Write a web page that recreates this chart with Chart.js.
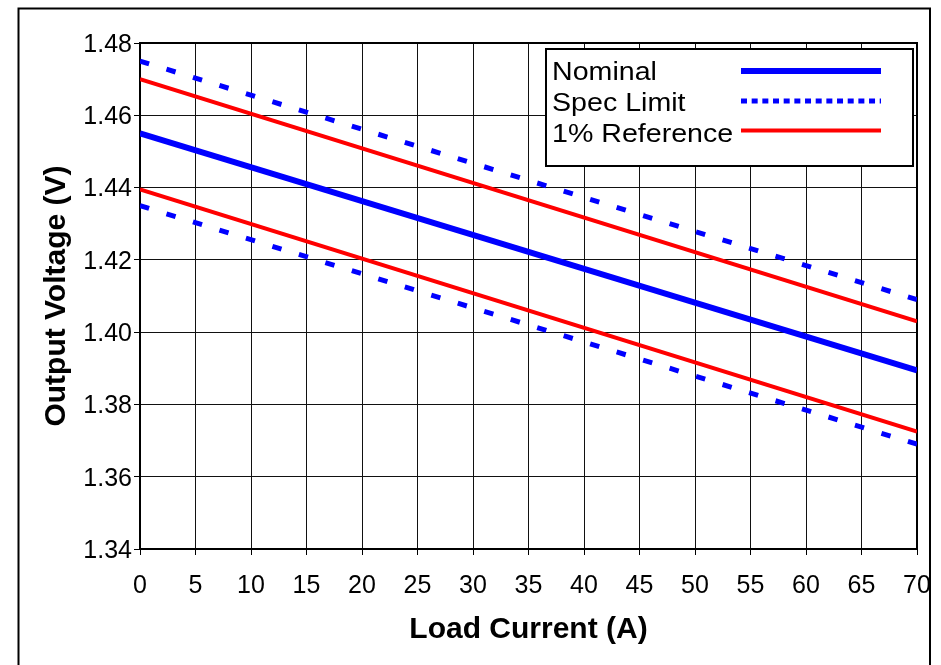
<!DOCTYPE html>
<html><head><meta charset="utf-8">
<script src="https://cdn.jsdelivr.net/npm/chart.js@4/dist/chart.umd.min.js"></script>
<style>html,body{margin:0;padding:0;background:#fff;}canvas{display:block;}</style>
</head><body>
<canvas id="c" width="941" height="665"></canvas>
<script>
// ---- data ----
const loadCurrent = [0, 70];
const nominal   = [1.455, 1.3894];
const specUpper = [1.475, 1.409];
const specLower = [1.435, 1.369];
const refUpper  = [1.470, 1.403];
const refLower  = [1.4395, 1.3725];
const xTickValues = [0, 5, 10, 15, 20, 25, 30, 35, 40, 45, 50, 55, 60, 65, 70];
const yTickValues = [1.34, 1.36, 1.38, 1.40, 1.42, 1.44, 1.46, 1.48];
const legendLabels = ['Nominal', 'Spec Limit', '1% Reference'];
const xTitle = 'Load Current (A)';
const yTitle = 'Output Voltage (V)';

const BLUE = '#0000ff', RED = '#ff0000';
const FONT = "'Liberation Sans', Arial, sans-serif";
const toPts = ys => loadCurrent.map((x, i) => ({x: x, y: ys[i]}));

const datasets = [
  {label: legendLabels[0], data: toPts(nominal), borderColor: BLUE, borderWidth: 6, legendDash: []},
  {label: legendLabels[1], data: toPts(specUpper), borderColor: BLUE, borderWidth: 5, borderDash: [9.5, 18.2], legendDash: [6, 4.67]},
  {label: legendLabels[1] + ' (low)', data: toPts(specLower), borderColor: BLUE, borderWidth: 5, borderDash: [9.5, 18.2], hideInLegend: true},
  {label: legendLabels[2], data: toPts(refUpper), borderColor: RED, borderWidth: 4, legendDash: []},
  {label: legendLabels[2] + ' (low)', data: toPts(refLower), borderColor: RED, borderWidth: 4, hideInLegend: true}
].map(d => Object.assign({pointRadius: 0, fill: false, tension: 0, borderCapStyle: 'butt'}, d));

const framePlugin = {
  id: 'frame',
  beforeDatasetsDraw(chart) {
    const {ctx, chartArea: a} = chart;
    ctx.save();
    ctx.strokeStyle = '#000';
    ctx.lineWidth = 2;
    ctx.strokeRect(a.left, a.top, a.right - a.left, a.bottom - a.top);
    ctx.restore();
  },
  afterDraw(chart) {
    const {ctx} = chart;
    ctx.save();
    // figure border
    ctx.strokeStyle = '#000';
    ctx.lineWidth = 2;
    ctx.strokeRect(18.5, 8.5, 911.5, 700);
    // legend box
    const bx = 546, by = 49, bw = 367, bh = 117;
    ctx.fillStyle = '#fff';
    ctx.fillRect(bx, by, bw, bh);
    ctx.lineWidth = 2;
    ctx.strokeRect(bx, by, bw, bh);
    const items = chart.data.datasets.filter(d => !d.hideInLegend);
    const baselines = [80, 111, 141.5];
    const lineYs = [71, 101, 130.5];
    items.forEach((d, i) => {
      ctx.save();
      ctx.translate(552, baselines[i]);
      ctx.scale(1.1, 1);
      ctx.fillStyle = '#000';
      ctx.font = '26px ' + FONT;
      ctx.textBaseline = 'alphabetic';
      ctx.textAlign = 'left';
      ctx.fillText(d.label, 0, 0);
      ctx.restore();
      ctx.beginPath();
      ctx.strokeStyle = d.borderColor;
      ctx.lineWidth = d.borderWidth;
      ctx.setLineDash(d.legendDash || []);
      ctx.lineCap = 'butt';
      ctx.moveTo(741, lineYs[i]);
      ctx.lineTo(881, lineYs[i]);
      ctx.stroke();
      ctx.setLineDash([]);
    });
    ctx.restore();
  }
};

new Chart(document.getElementById('c'), {
  type: 'line',
  data: {datasets: datasets},
  options: {
    responsive: false,
    animation: false,
    devicePixelRatio: 1,
    layout: {padding: {left: 20, top: 43, right: 24, bottom: 0}},
    plugins: {legend: {display: false}, tooltip: {enabled: false}},
    scales: {
      x: {
        type: 'linear', min: 0, max: 70,
        afterBuildTicks: s => { s.ticks = xTickValues.map(v => ({value: v})); },
        afterFit: s => { s.height = 116; s.paddingLeft = 0; s.paddingRight = 0; },
        grid: {color: '#111', lineWidth: 1, drawTicks: true, tickLength: 6, tickColor: '#000'},
        border: {display: false},
        ticks: {font: {family: FONT, size: 25}, color: '#000', padding: 16, maxRotation: 0, autoSkip: false},
        title: {display: true, text: xTitle, color: '#000', font: {family: FONT, size: 30, weight: 'bold'}, padding: {top: 0, bottom: 17}}
      },
      y: {
        type: 'linear', min: 1.34, max: 1.48,
        afterBuildTicks: s => { s.ticks = yTickValues.map(v => ({value: v})); },
        afterFit: s => { s.width = 120; s.paddingTop = 0; s.paddingBottom = 0; },
        grid: {color: '#111', lineWidth: 1, drawTicks: true, tickLength: 6, tickColor: '#000'},
        border: {display: false},
        ticks: {font: {family: FONT, size: 25}, color: '#000', padding: 2, labelOffset: 2, callback: v => Number(v).toFixed(2), autoSkip: false},
        title: {display: true, text: yTitle, color: '#000', font: {family: FONT, size: 30, weight: 'bold'}, padding: {top: 19, bottom: 0}}
      }
    }
  },
  plugins: [framePlugin]
});
</script>
</body></html>
